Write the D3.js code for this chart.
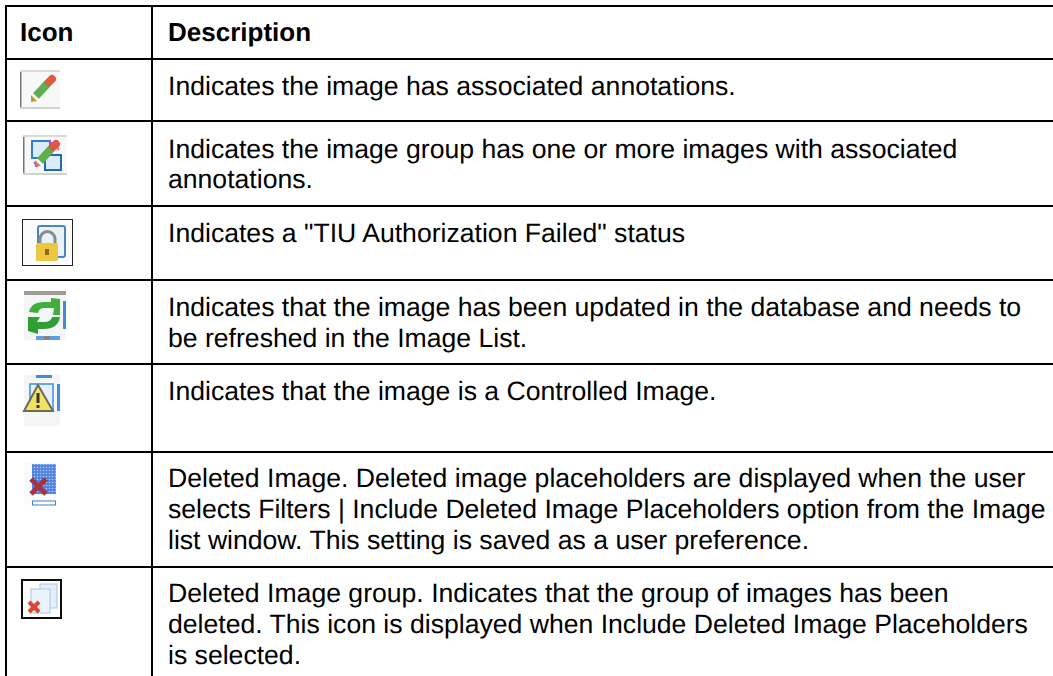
<!DOCTYPE html>
<html>
<head>
<meta charset="utf-8">
<script src="https://cdn.jsdelivr.net/npm/d3@7"></script>
<style>
  html, body { margin: 0; padding: 0; background: #fff; overflow: hidden; }
  svg { display: block; }
  text { font-family: "Liberation Sans", Arial, sans-serif; fill: #000; text-rendering: geometricPrecision; }
</style>
</head>
<body>
<svg id="chart"></svg>
<script>
const width = 1053;
const height = 676;

const headers = ["Icon", "Description"];
const iconNames = ["pencil", "group", "lock", "refresh", "warning", "deleted", "deletedGroup"];

const rowLines = [
  ["Indicates the image has associated annotations."],
  ["Indicates the image group has one or more images with associated", "annotations."],
  ["Indicates a \"TIU Authorization Failed\" status"],
  ["Indicates that the image has been updated in the database and needs to", "be refreshed in the Image List."],
  ["Indicates that the image is a Controlled Image."],
  ["Deleted Image. Deleted image placeholders are displayed when the user", "selects Filters | Include Deleted Image Placeholders option from the Image", "list window. This setting is saved as a user preference."],
  ["Deleted Image group. Indicates that the group of images has been", "deleted. This icon is displayed when Include Deleted Image Placeholders", "is selected."]
];

// y of the horizontal rules
const rowEdges = [6, 59, 121, 206, 280, 364, 452, 567];
// x of the vertical rules
const colEdges = [6, 152];
const headerX = [20, 168];
// first baseline below each row's top rule
const rowOffset = [36, 36.5, 36, 36, 36, 35, 35];

const svg = d3.select("#chart").attr("width", width).attr("height", height);

// icons are soft in the original screenshot
svg.append("defs").append("filter")
  .attr("id", "soft")
  .append("feGaussianBlur")
  .attr("stdDeviation", 0.6);

const dots = svg.select("defs").append("pattern")
  .attr("id", "dots")
  .attr("width", 3).attr("height", 3)
  .attr("patternUnits", "userSpaceOnUse");
dots.append("rect").attr("width", 3).attr("height", 3).attr("fill", "#4f82e0");
dots.append("circle").attr("cx", 1.5).attr("cy", 1.5).attr("r", 0.8).attr("fill", "#b4ccf2");

// grid
svg.selectAll("line.h")
  .data(rowEdges)
  .enter().append("line")
  .attr("class", "h")
  .attr("x1", 5).attr("x2", width)
  .attr("y1", d => d).attr("y2", d => d)
  .attr("stroke", "#000").attr("stroke-width", 2);

svg.selectAll("line.v")
  .data(colEdges)
  .enter().append("line")
  .attr("class", "v")
  .attr("x1", d => d).attr("x2", d => d)
  .attr("y1", 5).attr("y2", height)
  .attr("stroke", "#000").attr("stroke-width", 2);

// header
svg.selectAll("text.head")
  .data(headers)
  .enter().append("text")
  .attr("class", "head")
  .attr("x", (d, i) => headerX[i])
  .attr("y", 41)
  .attr("font-size", 26)
  .attr("font-weight", "bold")
  .text(d => d);

// description text
const rows = svg.selectAll("g.row")
  .data(rowLines)
  .enter().append("g")
  .attr("class", "row")
  .attr("transform", (d, i) => `translate(168, ${rowEdges[i + 1] + rowOffset[i]})`);

rows.selectAll("text")
  .data(d => d)
  .enter().append("text")
  .attr("y", (d, i) => i * 30.8)
  .attr("font-size", 26.6)
  .text(d => d);

// icons: x, y, w, h
const iconPos = {
  pencil: [20, 70, 40, 39],
  group: [23, 135, 44, 40],
  lock: [22, 219, 51, 47],
  refresh: [24, 291, 42, 49],
  warning: [24, 375, 36, 51],
  deleted: [24, 463, 32, 41],
  deletedGroup: [21, 579, 41, 40]
};

const icons = svg.selectAll("g.icon")
  .data(iconNames)
  .enter().append("g")
  .attr("class", "icon")
  .attr("filter", "url(#soft)")
  .attr("transform", d => `translate(${iconPos[d][0]}, ${iconPos[d][1]})`);

function drawPencil(g, dx, dy) {
  const p = g.append("g").attr("transform", `translate(${dx}, ${dy})`);
  p.append("line").attr("x1", 3).attr("y1", 18).attr("x2", 15).attr("y2", 5)
    .attr("stroke", "#5fae4e").attr("stroke-width", 8);
  p.append("line").attr("x1", 16).attr("y1", 4).attr("x2", 19).attr("y2", 1)
    .attr("stroke", "#dc5a3c").attr("stroke-width", 8).attr("stroke-linecap", "round");
  p.append("path").attr("d", "M-2 17 L4 23 L-2 24 Z").attr("fill", "#b8992f");
}

icons.each(function (name) {
  const g = d3.select(this);
  const [, , w, h] = iconPos[name];

  if (name === "pencil" || name === "group") {
    g.append("rect").attr("width", w).attr("height", h).attr("fill", "#f7f9f8");
    g.append("rect").attr("width", 1.5).attr("height", h).attr("fill", "#777");
    g.append("rect").attr("width", w).attr("height", 2).attr("fill", "#dcdad5");
    g.append("rect").attr("y", h - 2).attr("width", w).attr("height", 2).attr("fill", "#d3d1cb");
    if (name === "pencil") drawPencil(g, 13, 8);
    else {
      g.append("rect").attr("x", 9).attr("y", 6).attr("width", 18).attr("height", 17)
        .attr("fill", "#dcebf8").attr("stroke", "#2f7fd0").attr("stroke-width", 2);
      g.append("rect").attr("x", 22).attr("y", 20).attr("width", 16).attr("height", 15)
        .attr("fill", "#dcebf8").attr("stroke", "#2368b8").attr("stroke-width", 2);
      drawPencil(g, 14, 8);
      g.append("path").attr("d", "M11 27 L14 32 M26 7 L33 9 M34 12 L36 15")
        .attr("stroke", "#e838d8").attr("stroke-width", 1.5).attr("fill", "none");
    }
  }

  if (name === "lock") {
    g.append("rect").attr("x", .5).attr("y", .5).attr("width", w - 1).attr("height", h - 1)
      .attr("fill", "#fbfbfb").attr("stroke", "#222").attr("stroke-width", 1);
    g.append("rect").attr("x", 16).attr("y", 7).attr("width", 27).attr("height", 31)
      .attr("rx", 2).attr("fill", "#e8f2fb").attr("stroke", "#4a83c4").attr("stroke-width", 2);
    g.append("path").attr("d", "M18 26 V20 a7.5 7.5 0 0 1 15 0 V26")
      .attr("fill", "none").attr("stroke", "#8a8a86").attr("stroke-width", 3);
    g.append("rect").attr("x", 14).attr("y", 24).attr("width", 22).attr("height", 18)
      .attr("rx", 1.5).attr("fill", "#eec743");
    g.append("rect").attr("x", 23).attr("y", 30).attr("width", 4).attr("height", 6).attr("fill", "#8a6d1c");
  }

  if (name === "refresh") {
    g.append("rect").attr("width", w).attr("height", h).attr("fill", "#f3f6f4");
    g.append("rect").attr("width", w).attr("height", 4).attr("fill", "#a09d93");
    g.append("rect").attr("x", 39).attr("y", 10).attr("width", 3).attr("height", 28).attr("fill", "#3f8ddb");
    g.append("rect").attr("x", 12).attr("y", 45).attr("width", 24).attr("height", 4).attr("fill", "#5f9fe0");
    g.append("rect").attr("x", 20).attr("y", 45).attr("width", 6).attr("height", 4).attr("fill", "#8a8378");
    g.append("path").attr("d", "M5 21 Q7 11 20 11 H27 V7 L36 8 V24 L29 24 L30 17 H20 Q15 17 14 22 Z").attr("fill", "#3fae3d");
    g.append("path").attr("d", "M36 26 Q34 38 20 38 H14 V43 L4 40 V26 H16 L13 31 H20 Q27 31 28 26 Z").attr("fill", "#2f9e34");
  }

  if (name === "warning") {
    g.append("rect").attr("width", w).attr("height", h).attr("fill", "#f4f6f5");
    g.append("rect").attr("x", 6).attr("y", 9).attr("width", 23).attr("height", 26)
      .attr("fill", "#e6f0fa").attr("stroke", "#3f8ddb").attr("stroke-width", 1.5);
    g.append("rect").attr("x", 12).attr("y", 0).attr("width", 16).attr("height", 3).attr("fill", "#3f8ddb");
    g.append("rect").attr("x", 33).attr("y", 9).attr("width", 3).attr("height", 27).attr("fill", "#3f8ddb");
    g.append("path").attr("d", "M14 10 L29 36 H0 Z")
      .attr("fill", "#f2e263").attr("stroke", "#6b6b55").attr("stroke-width", 2);
    g.append("rect").attr("x", 12.5).attr("y", 18).attr("width", 3).attr("height", 10).attr("fill", "#333");
    g.append("rect").attr("x", 12.5).attr("y", 30).attr("width", 3).attr("height", 3).attr("fill", "#333");
  }

  if (name === "deleted") {
    g.append("rect").attr("width", w).attr("height", h).attr("fill", "#f8faf9");
    g.append("rect").attr("x", 8).attr("y", 1).attr("width", 24).attr("height", 30).attr("fill", "url(#dots)");
    g.append("rect").attr("x", 8.5).attr("y", 38).attr("width", 23).attr("height", 4)
      .attr("fill", "#fff").attr("stroke", "#3f7fd0").attr("stroke-width", 1);
    g.append("line").attr("x1", 7).attr("y1", 16).attr("x2", 22).attr("y2", 31)
      .attr("stroke", "#a8323f").attr("stroke-width", 5);
    g.append("line").attr("x1", 22).attr("y1", 16).attr("x2", 7).attr("y2", 31)
      .attr("stroke", "#a8323f").attr("stroke-width", 5);
  }

  if (name === "deletedGroup") {
    g.append("rect").attr("x", 1).attr("y", 1).attr("width", w - 2).attr("height", h - 2)
      .attr("fill", "#fff").attr("stroke", "#111").attr("stroke-width", 2);
    g.append("rect").attr("x", 19).attr("y", 5).attr("width", 17).attr("height", 24)
      .attr("fill", "#e4eefa").attr("stroke", "#a9c4e6").attr("stroke-width", 1);
    g.append("rect").attr("x", 10).attr("y", 10).attr("width", 19).attr("height", 24)
      .attr("fill", "#eaf2fb").attr("stroke", "#a9c4e6").attr("stroke-width", 1);
    g.append("line").attr("x1", 8).attr("y1", 23).attr("x2", 18).attr("y2", 33)
      .attr("stroke", "#d9472f").attr("stroke-width", 4);
    g.append("line").attr("x1", 18).attr("y1", 23).attr("x2", 8).attr("y2", 33)
      .attr("stroke", "#d9472f").attr("stroke-width", 4);
  }
});
</script>
</body>
</html>
